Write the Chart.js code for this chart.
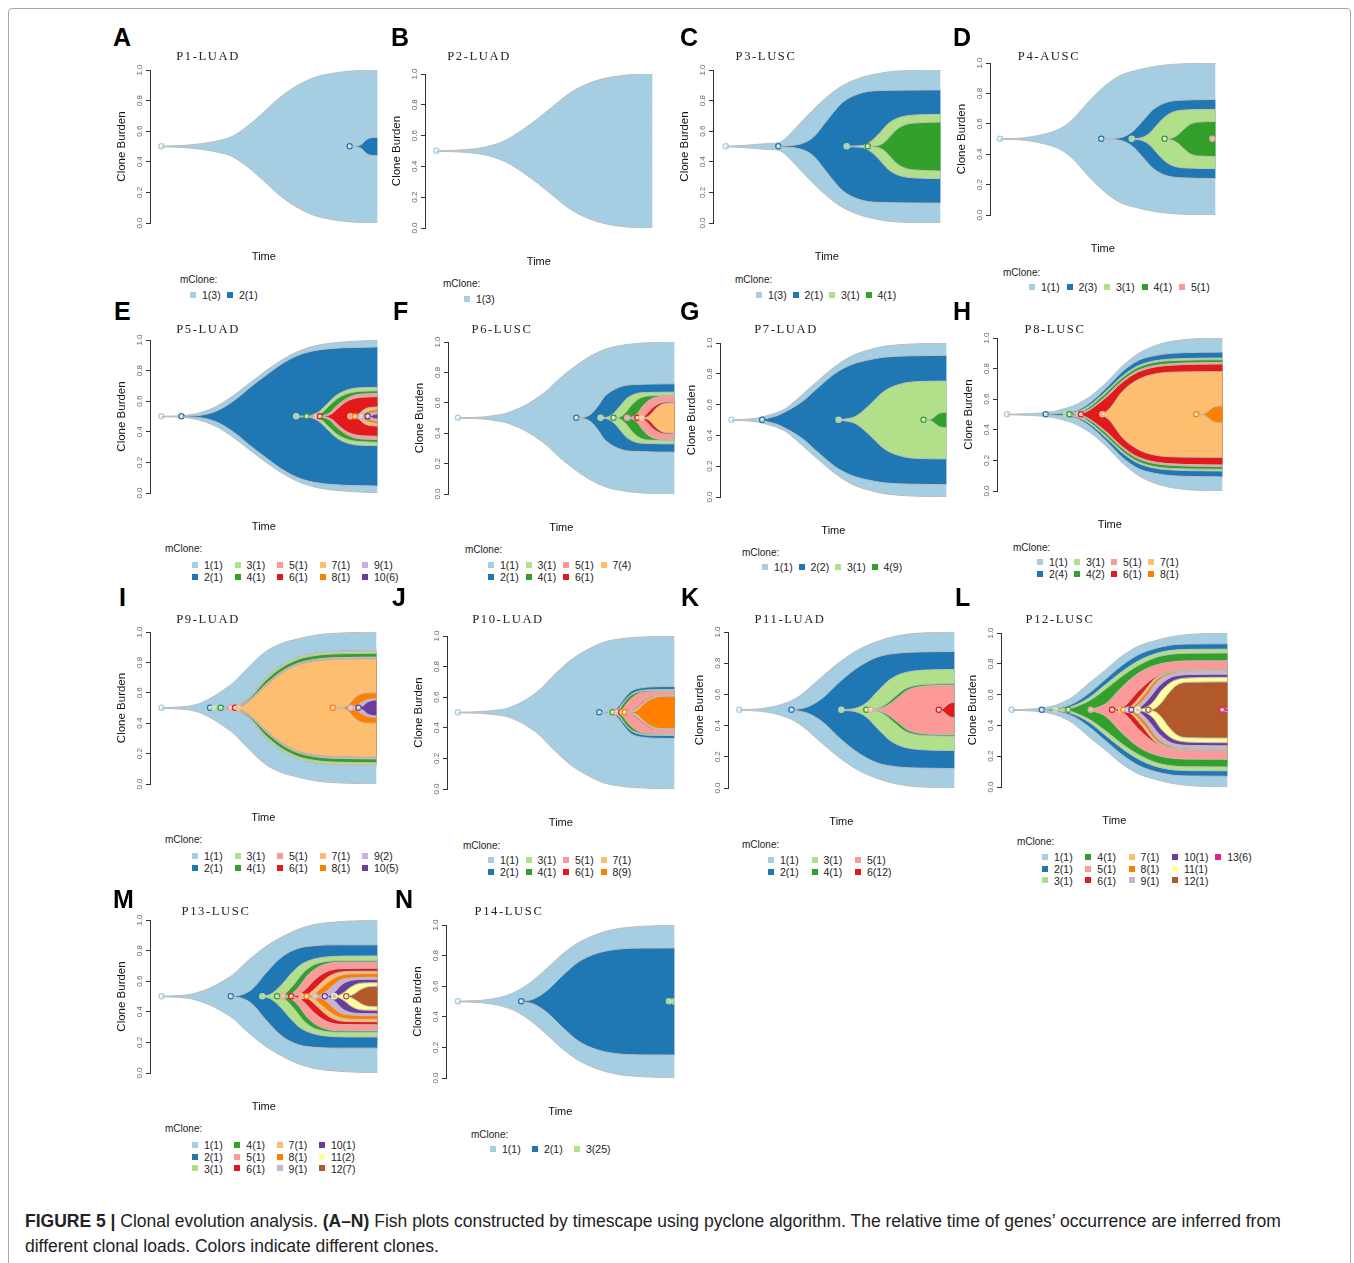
<!DOCTYPE html>
<html>
<head>
<meta charset="utf-8">
<script src="https://cdn.jsdelivr.net/npm/chart.js@4.4.1/dist/chart.umd.min.js"></script>
<style>
body{margin:0;width:1354px;height:1263px;background:#fff;position:relative;overflow:hidden;font-family:Arial,"Liberation Sans",sans-serif;}
.frame{position:absolute;left:8px;top:8px;width:1341px;height:1262px;border:1px solid #a8a8a8;border-radius:4px;}
canvas{position:absolute;}
.letter{position:absolute;font:bold 25px Arial,"Liberation Sans",sans-serif;color:#000;transform:translateY(-50%);line-height:1;}
.ptitle{position:absolute;font:12.6px "Liberation Serif","Times New Roman",serif;letter-spacing:1.6px;color:#222;transform:translate(-50%,-50%);white-space:nowrap;}
.mclone{position:absolute;font-size:10px;color:#222;transform:translateY(-50%);white-space:nowrap;}
.items{position:absolute;display:grid;grid-auto-flow:column;font-size:10.5px;color:#222;}
.items div{display:flex;align-items:center;white-space:nowrap;}
.items span.sq{display:inline-block;width:6px;height:6px;margin-right:6px;}
.cap{position:absolute;left:25px;top:1209px;font-size:17.5px;line-height:25px;color:#222;white-space:nowrap;}
</style>
</head>
<body>
<div class="frame"></div>
<script>
/***** data *****/
var yTickLabels = ['0.0','0.2','0.4','0.6','0.8','1.0'];
var panelLetters = ['A','B','C','D','E','F','G','H','I','J','K','L','M','N'];
var panelTitles = ['P1-LUAD','P2-LUAD','P3-LUSC','P4-AUSC','P5-LUAD','P6-LUSC','P7-LUAD','P8-LUSC','P9-LUAD','P10-LUAD','P11-LUAD','P12-LUSC','P13-LUSC','P14-LUSC'];

// each clone: time points (x) and band width (w)
var P1_labels = ['1(3)','2(1)'];
var P1_x = [[5,15,22,29,36,43,50,57,64,72,80,90,100],[87.7,91,93,95,97,100]];
var P1_w = [[0.004,0.015,0.035,0.07,0.13,0.27,0.45,0.64,0.785,0.9,0.956,0.99,1.0],[0.003,0.006,0.03,0.09,0.115,0.12]];

var P2_labels = ['1(3)'];
var P2_x = [[5,15,22,29,36,43,50,57,64,72,80,90,100]];
var P2_w = [[0.004,0.012,0.03,0.07,0.15,0.28,0.43,0.6,0.76,0.88,0.95,0.99,1.0]];

var P3_labels = ['1(3)','2(1)','3(1)','4(1)'];
var P3_x = [[5.6,14,20,25,29,32,35,42,49,56,64,72,80,100],[28.7,38,44,49,53,57,64,72,100],[58.7,65,69,73,77,82,88,100],[68,72,75,78,81,85,90,100]];
var P3_w = [[0.004,0.015,0.03,0.04,0.05,0.11,0.2,0.42,0.62,0.78,0.89,0.95,0.985,1.0],[0.004,0.03,0.12,0.3,0.45,0.58,0.69,0.73,0.74],[0.004,0.01,0.06,0.17,0.3,0.38,0.41,0.42],[0.004,0.01,0.05,0.14,0.23,0.29,0.31,0.32]];

var P4_labels = ['1(1)','2(3)','3(1)','4(1)','5(1)'];
var P4_x = [[4.4,15,22,26,29,33,37,44,51,58,66,73,80,100],[49.3,56,60,64,68,72,77,84,100],[62.8,66,70,73,76,80,86,100],[77.4,80,83,86,89,93,100],[98.5,100]];
var P4_w = [[0.004,0.015,0.05,0.08,0.11,0.17,0.27,0.5,0.7,0.84,0.91,0.955,0.98,1.0],[0.004,0.01,0.04,0.12,0.25,0.38,0.47,0.51,0.52],[0.004,0.01,0.06,0.15,0.25,0.34,0.38,0.39],[0.004,0.01,0.05,0.13,0.2,0.225,0.23],[0.003,0.012]];

var P5_labels = ['1(1)','2(1)','3(1)','4(1)','5(1)','6(1)','7(1)','8(1)','9(1)','10(6)'];
var P5_x = [[5,14,18,22,26,29,33,36,40,43.5,51,58,65,72,80,100],[13.8,18,22,26,29,33,36,40,43.5,51,58,65,72,80,100],[64.2,70,74,78,82,87,92,100],[68.8,72,75.5,79,83,88,93,100],[73,75.5,79,82,85.5,90,94,100],[74.6,77,80,83,86.5,91,95,100],[88,90,92,94,96,98,100],[90,92,94,96,98,100],[92.8,94.5,96.5,98.5,100],[95.6,97,98.5,100]];
var P5_w = [[0.004,0.01,0.025,0.05,0.09,0.13,0.2,0.26,0.35,0.43,0.6,0.74,0.85,0.92,0.96,1.0],[0.004,0.008,0.015,0.04,0.07,0.13,0.19,0.28,0.37,0.54,0.69,0.8,0.86,0.89,0.91],[0.004,0.01,0.06,0.17,0.28,0.35,0.375,0.38],[0.003,0.008,0.05,0.15,0.25,0.31,0.33,0.336],[0.003,0.008,0.05,0.14,0.22,0.28,0.295,0.3],[0.003,0.006,0.04,0.12,0.2,0.245,0.255,0.26],[0.003,0.01,0.04,0.09,0.115,0.122,0.125],[0.003,0.01,0.04,0.07,0.085,0.09],[0.003,0.01,0.035,0.055,0.06],[0.003,0.01,0.028,0.035]];

var P6_labels = ['1(1)','2(1)','3(1)','4(1)','5(1)','6(1)','7(4)'];
var P6_x = [[4.4,15,21,25.5,29,33,36.5,40,44,47.4,54.7,62,69,76.6,88,100],[56.6,60,63,66,69,73,77,82,100],[67.3,70,73,76,79,83,88,100],[73,75.5,78,81,84,88,100],[79,81,83.5,86,89,93,100],[83.5,85.5,87.5,90,93,96,100],[85.4,87.5,89.5,91.5,94,97,100]];
var P6_w = [[0.004,0.012,0.035,0.06,0.1,0.15,0.21,0.28,0.37,0.47,0.65,0.8,0.9,0.956,0.99,1.0],[0.004,0.01,0.05,0.15,0.28,0.37,0.42,0.44,0.45],[0.003,0.01,0.06,0.16,0.26,0.32,0.335,0.34],[0.003,0.01,0.06,0.17,0.25,0.29,0.3],[0.003,0.01,0.06,0.16,0.24,0.28,0.29],[0.003,0.01,0.05,0.13,0.19,0.21,0.215],[0.003,0.01,0.05,0.12,0.175,0.195,0.2]];

var P7_labels = ['1(1)','2(2)','3(1)','4(9)'];
var P7_x = [[5.1,14,18,21.8,25.5,29,36.3,43.6,51,58,65.4,72,80,100],[18.6,21.8,25.5,29,36.3,43.6,51,58,65.4,72,80,100],[52.3,56,60,65.4,72.7,80,88,100],[89.8,93,95,97,100]];
var P7_w = [[0.004,0.015,0.035,0.066,0.1,0.15,0.33,0.52,0.7,0.83,0.91,0.955,0.98,1.0],[0.004,0.03,0.06,0.11,0.24,0.43,0.61,0.72,0.78,0.815,0.83,0.84],[0.004,0.015,0.05,0.18,0.38,0.47,0.5,0.505],[0.003,0.01,0.05,0.09,0.1]];

var P8_labels = ['1(1)','2(4)','3(1)','4(2)','5(1)','6(1)','7(1)','8(1)'];
var P8_x = [[4.4,15,20,25,29,33.6,37,41,48.2,55.5,62.8,70,77.4,88,100],[21.6,30,33.6,36,41,48.2,55.5,62.8,70,77.4,100],[30.5,36,41,48.2,55.5,62.8,77.4,100],[32.1,37,41,48.2,55.5,62.8,77.4,100],[35.8,41,48.2,55.5,62.8,77.4,100],[37.2,41,48.2,55.5,62.8,77.4,100],[46.7,50,55.5,62.8,70,80,100],[88.3,91.5,93.5,95.5,97.5,100]];
var P8_w = [[0.004,0.012,0.022,0.04,0.07,0.11,0.16,0.23,0.41,0.63,0.8,0.9,0.956,0.99,1.0],[0.004,0.02,0.04,0.06,0.15,0.34,0.56,0.71,0.77,0.8,0.816],[0.003,0.04,0.12,0.3,0.5,0.64,0.725,0.738],[0.003,0.03,0.1,0.28,0.48,0.62,0.705,0.716],[0.003,0.07,0.24,0.44,0.58,0.665,0.68],[0.003,0.06,0.22,0.42,0.56,0.645,0.66],[0.003,0.08,0.3,0.46,0.53,0.555,0.56],[0.003,0.008,0.04,0.09,0.107,0.11]];

var P9_labels = ['1(1)','2(1)','3(1)','4(1)','5(1)','6(1)','7(1)','8(1)','9(2)','10(5)'];
var P9_x = [[5.1,14,18,21.8,25.5,29,32.5,36.3,43.6,50.9,58,65.4,72,80,100],[26.5,36,43.6,50.9,58,65.4,72.7,80,100],[28.3,36,43.6,50.9,58,65.4,72.7,80,100],[31.2,36,43.6,50.9,58,65.4,72.7,80,100],[35.6,43.6,50.9,58,65.4,72.7,80,100],[37.5,43.6,50.9,58,65.4,72.7,80,100],[39,43.6,50.9,58,65.4,72.7,80,100],[80.7,85,87,89,91,93.5,96,100],[88.5,90.5,92.5,95,97,100],[92,94,96,98,100]];
var P9_w = [[0.004,0.015,0.03,0.06,0.11,0.17,0.24,0.32,0.54,0.74,0.85,0.91,0.955,0.98,1.0],[0.003,0.022,0.135,0.395,0.565,0.675,0.725,0.745,0.755],[0.003,0.02,0.13,0.39,0.56,0.67,0.72,0.74,0.75],[0.003,0.017,0.12,0.36,0.53,0.64,0.69,0.71,0.72],[0.003,0.1,0.31,0.48,0.59,0.64,0.66,0.67],[0.003,0.09,0.29,0.465,0.575,0.625,0.645,0.655],[0.003,0.08,0.28,0.455,0.565,0.615,0.635,0.645],[0.003,0.005,0.03,0.09,0.15,0.19,0.2,0.2],[0.003,0.02,0.06,0.1,0.118,0.12],[0.003,0.03,0.08,0.1,0.105]];

var P10_labels = ['1(1)','2(1)','3(1)','4(1)','5(1)','6(1)','7(1)','8(9)'];
var P10_x = [[4.8,15,21,25.9,29.5,33.1,36.8,40.4,47.7,55,62.2,69,76.7,88,100],[66.9,72,75,78,81,85,90,100],[72.1,75,78,81,85,90,100],[72.7,75.5,78,81,85,90,100],[74.5,77,79,82,85.5,90,100],[76.5,80,82.5,85,87.5,91,100],[77.2,80.5,83,85.5,88,91.5,100],[78,82,84,86,88,91,94,100]];
var P10_w = [[0.004,0.012,0.03,0.05,0.09,0.14,0.21,0.29,0.51,0.7,0.83,0.92,0.965,0.99,1.0],[0.004,0.01,0.07,0.19,0.28,0.32,0.335,0.34],[0.003,0.04,0.15,0.24,0.285,0.298,0.3],[0.003,0.035,0.14,0.23,0.275,0.288,0.29],[0.003,0.04,0.12,0.21,0.26,0.272,0.275],[0.003,0.01,0.05,0.12,0.175,0.222,0.23],[0.003,0.01,0.045,0.115,0.17,0.215,0.225],[0.003,0.01,0.04,0.1,0.15,0.195,0.21,0.215]];

var P11_labels = ['1(1)','2(1)','3(1)','4(1)','5(1)','6(12)'];
var P11_x = [[5,14,21,24.5,28,31.5,35,42,50,58,66,73,80,100],[28,31.5,35,38.5,42,50,58,66,75,85,100],[50,56,61,66,71,76,82,90,100],[61,66,70,74,78,82,88,100],[63,67,71,75,79,83,89,100],[93,95,96.5,98,100]];
var P11_w = [[0.004,0.015,0.05,0.08,0.12,0.18,0.26,0.44,0.63,0.78,0.88,0.94,0.975,1.0],[0.004,0.015,0.04,0.09,0.16,0.38,0.56,0.68,0.73,0.745,0.75],[0.004,0.02,0.09,0.24,0.38,0.46,0.5,0.515,0.52],[0.003,0.02,0.08,0.18,0.27,0.31,0.33,0.335],[0.003,0.015,0.07,0.16,0.25,0.29,0.31,0.315],[0.003,0.02,0.06,0.09,0.1]];

var P12_labels = ['1(1)','2(1)','3(1)','4(1)','5(1)','6(1)','7(1)','8(1)','9(1)','10(1)','11(1)','12(1)','13(6)'];
var P12_x = [[4.7,15,20,24.3,28,31.6,35,38.9,46.1,53.4,60.7,68,75,82.5,100],[18,24.3,31.6,38.9,46.1,53.4,60.7,68,75.3,85,100],[24,31.6,38.9,46.1,53.4,60.7,68,75.3,85,100],[29.7,38.9,46.1,53.4,60.7,68,75.3,85,100],[39.6,46.1,53.4,60.7,68,75.3,85,100],[49,54,60.7,68,75.3,85,100],[53,57,62,68,75.3,85,100],[54,58,63,68.5,75.3,85,100],[56,59,64,69,76,85,100],[57.5,61,65,70,76.5,86,100],[60.3,63,67,71,77,86,100],[65,68,71,74,78,83,100],[97.5,99,100]];
var P12_w = [[0.004,0.015,0.035,0.065,0.11,0.17,0.25,0.35,0.52,0.7,0.83,0.9,0.95,0.98,1.0],[0.004,0.02,0.08,0.22,0.4,0.58,0.72,0.8,0.845,0.858,0.86],[0.004,0.05,0.16,0.33,0.5,0.64,0.73,0.775,0.788,0.79],[0.004,0.12,0.27,0.44,0.58,0.68,0.725,0.738,0.74],[0.004,0.08,0.3,0.48,0.58,0.625,0.638,0.64],[0.004,0.04,0.25,0.43,0.51,0.528,0.53],[0.003,0.04,0.2,0.41,0.5,0.518,0.52],[0.003,0.04,0.19,0.395,0.49,0.508,0.51],[0.003,0.03,0.17,0.37,0.475,0.496,0.5],[0.003,0.03,0.14,0.32,0.44,0.462,0.465],[0.003,0.02,0.1,0.26,0.39,0.42,0.425],[0.003,0.02,0.1,0.22,0.33,0.36,0.365],[0.003,0.015,0.025]];

var P13_labels = ['1(1)','2(1)','3(1)','4(1)','5(1)','6(1)','7(1)','8(1)','9(1)','10(1)','11(2)','12(7)'];
var P13_x = [[5.1,14,18,21.7,25.5,29,32.5,36.2,43.5,50.7,58,65.2,72,79.7,100],[35.5,40,45,50.7,58,65.2,72.5,82,100],[49.3,53,58,62,66,71,77,85,100],[55.8,59,63,67,71,76,83,100],[58.5,62,65.5,69,73,78,85,100],[62,65,68.5,72,76,80,86,100],[66.5,69,72,75.5,79,83,88,100],[68.8,71.5,74.5,78,81.5,85,90,100],[72.5,75,78,81,84,87.5,92,100],[76.8,79,81.5,84,87,90,94,100],[81,83,85.5,88,91,94,100],[86.2,88.5,90.5,92.5,95,97.5,100]];
var P13_w = [[0.004,0.015,0.03,0.06,0.1,0.15,0.21,0.28,0.48,0.65,0.78,0.88,0.94,0.97,1.0],[0.004,0.02,0.1,0.3,0.52,0.63,0.665,0.675,0.675],[0.004,0.03,0.16,0.3,0.41,0.48,0.515,0.528,0.53],[0.004,0.03,0.15,0.3,0.4,0.45,0.468,0.47],[0.004,0.03,0.13,0.27,0.37,0.43,0.448,0.45],[0.004,0.02,0.1,0.21,0.3,0.35,0.367,0.37],[0.003,0.02,0.09,0.19,0.27,0.315,0.328,0.33],[0.003,0.02,0.09,0.18,0.25,0.285,0.298,0.3],[0.003,0.02,0.08,0.16,0.22,0.24,0.248,0.25],[0.003,0.015,0.07,0.15,0.2,0.218,0.224,0.225],[0.003,0.015,0.06,0.12,0.165,0.178,0.18],[0.003,0.015,0.05,0.09,0.122,0.132,0.135]];

var P14_labels = ['1(1)','2(1)','3(25)'];
var P14_x = [[5.2,15,19,23,26.5,30,33.5,37,44,51,58,66,73,80,100],[32.9,38,44,51,58,66,74,85,100],[97.5,99,100]];
var P14_w = [[0.004,0.015,0.03,0.05,0.08,0.12,0.18,0.25,0.43,0.62,0.77,0.88,0.94,0.97,1.0],[0.004,0.03,0.14,0.34,0.52,0.63,0.68,0.698,0.7],[0.003,0.03,0.05]];

/***** styles / layout *****/
var cloneColours = ['#A6CEE3','#1F78B4','#B2DF8A','#33A02C','#FB9A99','#E31A1C','#FDBF6F','#FF7F00','#CAB2D6','#6A3D9A','#FFFF99','#B15928','#EC1C8C'];
// axis x, right x, y of 1.0, y of 0.0
var plotBoxes = [
  [150,380,70,223],[425,655,74,228],[713,943,70,223],[990,1218,63,215],
  [150,380,340,493],[448,677,342,494],[720,949,343,497],[997,1225,338,491],
  [150,379,632,784],[447,677,636,789],[728,957,632,788],[1001,1230,633,787],
  [150,380,920,1073],[446,677,925,1078]
];
var letterPos = [[113,37],[391,37],[680,37],[953,37],[114,311],[393,311],[680,311],[953,311],[119,597],[392,597],[681,597],[955,597],[113,899],[395,899]];
var titlePos = [[208,56],[479,56],[766,56],[1049,56],[208,329],[502,329],[786,329],[1055,329],[208,619],[508,619],[790,619],[1060,619],[216,911],[509,911]];
// mClone x, y, first marker x, first row y, column step, rows
var legendPos = [
  [180,279,190,295,37,1],[443,283,464,299,37,1],[735,279,756,295,36.5,1],[1003,272,1029,287,37.5,1],
  [165,548,192,565,42.5,2],[465,549,488,565,37.5,2],[742,552,762,567,36.5,1],[1013,547,1037,562,37,2],
  [165,839,192,856,42.5,2],[463,845,488,860,37.5,2],[742,844,768,860,43.5,2],[1017,841,1042,857,43.3,3],
  [165,1128,192,1145,42.3,3],[471,1134,490,1149,42,1]
];

var panelData = [
  [P1_labels,P1_x,P1_w],[P2_labels,P2_x,P2_w],[P3_labels,P3_x,P3_w],[P4_labels,P4_x,P4_w],
  [P5_labels,P5_x,P5_w],[P6_labels,P6_x,P6_w],[P7_labels,P7_x,P7_w],[P8_labels,P8_x,P8_w],
  [P9_labels,P9_x,P9_w],[P10_labels,P10_x,P10_w],[P11_labels,P11_x,P11_w],[P12_labels,P12_x,P12_w],
  [P13_labels,P13_x,P13_w],[P14_labels,P14_x,P14_w]
];

function cloneColour(lab){
  return cloneColours[parseInt(lab, 10) - 1];
}

function addDiv(cls, html, left, top){
  var d = document.createElement('div');
  d.className = cls;
  d.innerHTML = html;
  d.style.left = left + 'px';
  d.style.top = top + 'px';
  document.body.appendChild(d);
  return d;
}

function drawPanel(i){
  var box = plotBoxes[i];
  var labels = panelData[i][0], xs = panelData[i][1], ws = panelData[i][2];
  var cv = document.createElement('canvas');
  cv.width = box[1] - box[0] + 43;
  cv.height = box[3] - box[2] + 51;
  cv.style.left = (box[0] - 40) + 'px';
  cv.style.top = (box[2] - 8) + 'px';
  document.body.appendChild(cv);

  var n = labels.length;
  var datasets = [];
  labels.forEach(function(lab, k){
    var col = cloneColour(lab);
    var lower = xs[k].map(function(x, j){ return {x: x, y: 0.5 - ws[k][j] / 2}; });
    var upper = xs[k].map(function(x, j){ return {x: x, y: 0.5 + ws[k][j] / 2}; });
    datasets.push({
      label: lab + ' low', data: lower, fill: false,
      borderColor: '#bdbdbd', borderWidth: 1, pointRadius: 0,
      cubicInterpolationMode: 'monotone', order: n - k
    });
    datasets.push({
      label: lab, data: upper, fill: '-1', backgroundColor: col,
      borderColor: '#bdbdbd', borderWidth: 1,
      pointRadius: function(c){ return c.dataIndex === 0 ? 2.6 : 0; },
      pointBorderColor: col, pointBackgroundColor: 'rgba(255,255,255,0.6)', pointBorderWidth: 1.3,
      cubicInterpolationMode: 'monotone', order: n - k
    });
  });

  new Chart(cv, {
    type: 'line',
    data: {datasets: datasets},
    options: {
      responsive: false, animation: false, events: [],
      layout: {padding: {left: 5, top: 8, right: 3, bottom: 2}},
      plugins: {legend: {display: false}, tooltip: {enabled: false}},
      scales: {
        x: {
          type: 'linear', min: 0, max: 100,
          grid: {display: false}, border: {display: false}, ticks: {display: false},
          title: {display: true, text: 'Time', color: '#111', padding: 0, font: {family: 'Arial', size: 11}},
          afterFit: function(s){ s.height = 41; }
        },
        y: {
          min: 0, max: 1,
          grid: {display: true, drawOnChartArea: false, drawTicks: true, tickLength: 4, color: '#333'},
          border: {display: true, color: '#333', width: 1},
          ticks: {
            stepSize: 0.2, minRotation: 90, maxRotation: 90, crossAlign: 'center', padding: 1,
            color: '#666', font: {family: 'Arial', size: 8},
            callback: function(v){ return yTickLabels[Math.round(v * 5)]; }
          },
          title: {display: true, text: 'Clone Burden', color: '#111', padding: 0, font: {family: 'Arial', size: 11.5}},
          afterFit: function(s){ s.width = 35; }
        }
      }
    }
  });

  // letter, title, legend
  addDiv('letter', panelLetters[i], letterPos[i][0], letterPos[i][1]);
  addDiv('ptitle', panelTitles[i], titlePos[i][0], titlePos[i][1]);
  var lg = legendPos[i];
  addDiv('mclone', 'mClone:', lg[0], lg[1]);
  var rows = lg[5];
  var cols = Math.ceil(n / rows);
  var html = '';
  labels.forEach(function(lab){
    html += '<div><span class="sq" style="background:' + cloneColour(lab) + '"></span>' + lab + '</div>';
  });
  var it = addDiv('items', html, lg[2], lg[3] - 6);
  it.style.gridTemplateColumns = 'repeat(' + cols + ',' + lg[4] + 'px)';
  it.style.gridTemplateRows = 'repeat(' + rows + ',11.8px)';
}

for (var i = 0; i < plotBoxes.length; i++) drawPanel(i);

addDiv('cap', '<b>FIGURE 5 |</b> Clonal evolution analysis. <b>(A–N)</b> Fish plots constructed by timescape using pyclone algorithm. The relative time of genes’ occurrence are inferred from<br>different clonal loads. Colors indicate different clones.', 25, 1209);
</script>
</body>
</html>
